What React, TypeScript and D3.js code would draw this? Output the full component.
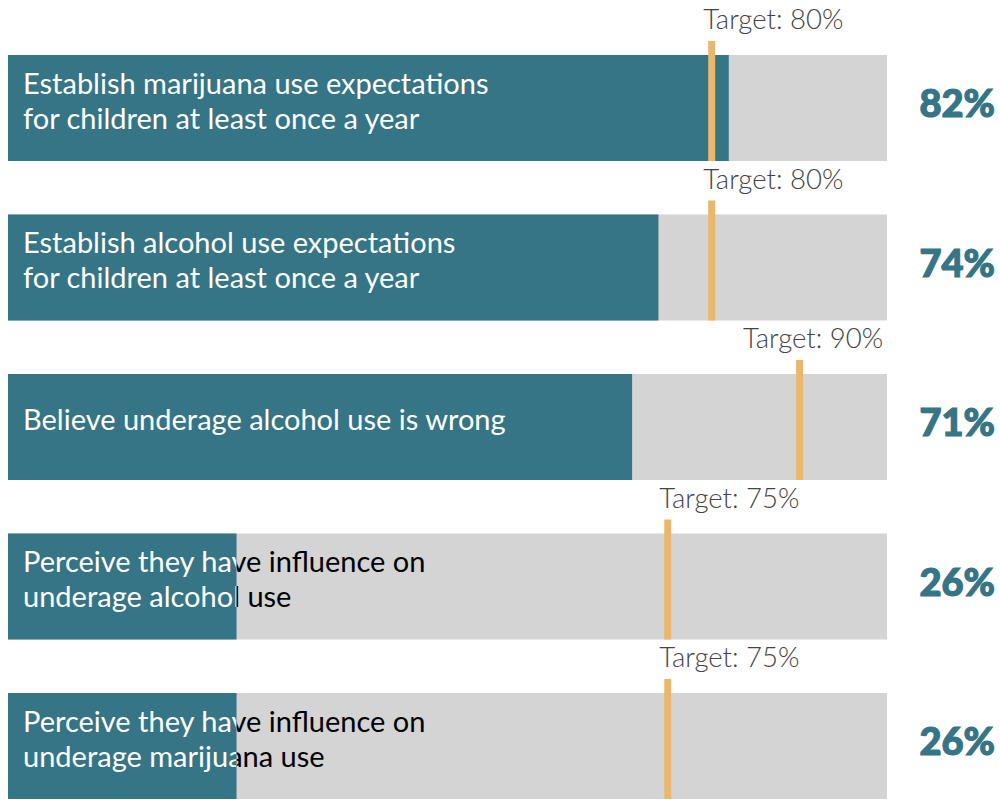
import React from "react";
import * as d3 from "d3";

const labels: string[][] = [
  ["Establish marijuana use expectations", "for children at least once a year"],
  ["Establish alcohol use expectations", "for children at least once a year"],
  ["Believe underage alcohol use is wrong"],
  ["Perceive they have influence on", "underage alcohol use"],
  ["Perceive they have influence on", "underage marijuana use"],
];
const values: number[] = [82, 74, 71, 26, 26];
const targets: number[] = [80, 80, 90, 75, 75];

const W = 1000;
const H = 800;
const TEAL = "#357585";
const GRAY = "#d4d4d4";
const ORANGE = "#e9b86c";

export default function App() {
  const x = d3.scaleLinear().domain([0, 100]).range([8, 887]);
  const bh = 106;
  const step = 159.5;
  return (
    <svg
      width={W}
      height={H}
      style={{ position: "absolute", left: 0, top: 0 }}
      fontFamily="Lato"
    >
      <defs>
        {values.map((v, i) => {
          const top = 55 + i * step;
          return (
            <React.Fragment key={i}>
              <clipPath id={`in${i}`}>
                <rect x={x(0)} y={top} width={x(v) - x(0)} height={bh} />
              </clipPath>
              <clipPath id={`out${i}`}>
                <rect x={x(v)} y={top} width={W} height={bh} />
              </clipPath>
            </React.Fragment>
          );
        })}
      </defs>
      {values.map((v, i) => {
        const top = 55 + i * step;
        const lines = labels[i];
        const lh = 35;
        const cy = top + bh / 2;
        const firstBase = cy + 3 - ((lines.length - 1) * lh) / 2;
        const tx = x(targets[i]);
        const tLabel = `Target: ${targets[i]}%`;
        const tWidth = 139;
        let tStart = tx - 8;
        if (tStart + tWidth > 882) tStart = 882 - tWidth;
        const textEl = (fill: string) => (
          <text fontSize={29} fill={fill}>
            {lines.map((l, j) => (
              <tspan key={j} x={23} y={firstBase + j * lh}>
                {l}
              </tspan>
            ))}
          </text>
        );
        return (
          <g key={i}>
            <rect x={x(0)} y={top} width={x(100) - x(0)} height={bh} fill={GRAY} />
            <rect x={x(0)} y={top} width={x(v) - x(0)} height={bh} fill={TEAL} />
            <g clipPath={`url(#in${i})`}>{textEl("#ffffff")}</g>
            <g clipPath={`url(#out${i})`}>{textEl("#000000")}</g>
            <rect x={tx - 3} y={top - 14} width={7} height={bh + 14} fill={ORANGE} />
            <text
              x={tStart}
              y={top - 26}
              fontSize={27.5}
              fontWeight={300}
              fill="#444444"
            >
              {tLabel}
            </text>
            <text
              x={995}
              y={cy + 9}
              textAnchor="end"
              fontSize={38}
              fontWeight={900}
              fill={TEAL}
              stroke={TEAL}
              strokeWidth={1.2}
            >
              {`${v}%`}
            </text>
          </g>
        );
      })}
    </svg>
  );
}
